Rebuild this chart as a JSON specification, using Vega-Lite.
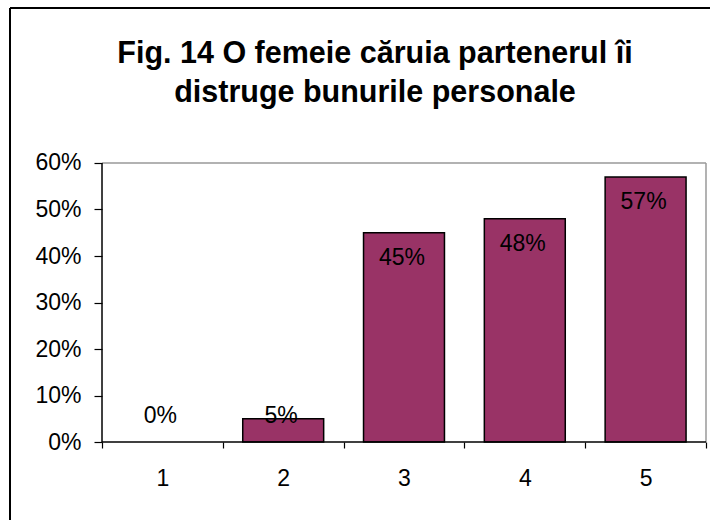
{
  "$schema": "https://vega.github.io/schema/vega-lite/v6.json",
  "width": 700,
  "height": 512,
  "autosize": {"type": "none"},
  "padding": {"left": 10, "top": 8, "right": 0, "bottom": 0},
  "background": "white",
  "title": {
    "text": ["Fig. 14 O femeie căruia partenerul îi", "distruge bunurile personale"],
    "anchor": "middle",
    "orient": "top",
    "frame": "group",
    "baseline": "alphabetic",
    "offset": 0,
    "dy": 124,
    "dx": 15,
    "font": "Liberation Sans",
    "fontSize": 30.5,
    "fontWeight": "bold",
    "lineHeight": 39,
    "color": "#000000"
  },
  "layer": [
    {
      "data": {"values": [
        {"cat": "1", "value": 0},
        {"cat": "2", "value": 0.05},
        {"cat": "3", "value": 0.45},
        {"cat": "4", "value": 0.48},
        {"cat": "5", "value": 0.57}
      ]},
      "transform": [{"filter": "datum.value > 0"}],
      "mark": {"type": "bar", "width": {"band": 0.67}, "fill": "#993366", "stroke": "#000000", "strokeWidth": 1.5},
      "encoding": {
        "x": {
          "field": "cat", "type": "nominal",
          "scale": {"type": "band", "domain": ["1", "2", "3", "4", "5"], "paddingInner": 0, "paddingOuter": 0.3974, "align": 0.9583},
          "axis": {
            "orient": "bottom", "offset": -78, "title": null, "domain": false, "grid": false,
            "tickBand": "extent", "tickSize": 6, "tickColor": "#000000", "tickWidth": 1.2,
            "labelAngle": 0, "labelFont": "Liberation Sans", "labelFontSize": 23, "labelColor": "#000000", "labelPadding": 19
          }
        },
        "y": {
          "field": "value", "type": "quantitative",
          "scale": {"domain": [-0.1677, 0.9333], "nice": false, "zero": false},
          "axis": {
            "orient": "left", "offset": -92, "title": null, "domain": false, "grid": false,
            "values": [0, 0.1, 0.2, 0.3, 0.4, 0.5, 0.6], "format": ".0%",
            "tickSize": 8, "tickColor": "#000000", "tickWidth": 1.2,
            "labelFont": "Liberation Sans", "labelFontSize": 23, "labelColor": "#000000", "labelPadding": 13
          }
        }
      }
    },
    {
      "data": {"values": [
        {"cat": "3", "value": 0.45},
        {"cat": "4", "value": 0.48},
        {"cat": "5", "value": 0.57}
      ]},
      "mark": {"type": "text", "baseline": "middle", "align": "center", "dy": 25.5, "dx": -2, "font": "Liberation Sans", "fontSize": 23, "color": "#000000"},
      "encoding": {
        "x": {"field": "cat", "type": "nominal"},
        "y": {"field": "value", "type": "quantitative"},
        "text": {"field": "value", "type": "quantitative", "format": ".0%"}
      }
    },
    {
      "data": {"values": [
        {"cat": "1", "value": 0},
        {"cat": "2", "value": 0.05}
      ]},
      "mark": {"type": "text", "baseline": "middle", "align": "center", "dy": -26, "dx": -2, "font": "Liberation Sans", "fontSize": 23, "color": "#000000"},
      "encoding": {
        "x": {"field": "cat", "type": "nominal"},
        "y": {"datum": 0, "type": "quantitative"},
        "text": {"field": "value", "type": "quantitative", "format": ".0%"}
      }
    },
    {
      "data": {"values": [{}]},
      "mark": {"type": "rule", "color": "#999999", "strokeWidth": 1.5},
      "encoding": {
        "x": {"datum": "1", "type": "nominal", "bandPosition": 0},
        "x2": {"datum": "5", "bandPosition": 1},
        "y": {"datum": 0.6, "type": "quantitative"}
      }
    },
    {
      "data": {"values": [{}]},
      "mark": {"type": "rule", "color": "#999999", "strokeWidth": 1.5},
      "encoding": {
        "x": {"datum": "5", "type": "nominal", "bandPosition": 1},
        "y": {"datum": 0, "type": "quantitative"},
        "y2": {"datum": 0.6}
      }
    },
    {
      "data": {"values": [{}]},
      "mark": {"type": "rule", "color": "#000000", "strokeWidth": 1.5},
      "encoding": {
        "x": {"datum": "1", "type": "nominal", "bandPosition": 0},
        "y": {"datum": 0, "type": "quantitative"},
        "y2": {"datum": 0.6}
      }
    },
    {
      "data": {"values": [{}]},
      "mark": {"type": "rule", "color": "#000000", "strokeWidth": 1.5},
      "encoding": {
        "x": {"datum": "1", "type": "nominal", "bandPosition": 0},
        "x2": {"datum": "5", "bandPosition": 1},
        "y": {"datum": 0, "type": "quantitative"}
      }
    }
  ],
  "config": {
    "view": {"stroke": "#000000", "strokeWidth": 2, "strokeDash": [700, 1212, 512, 0]}
  }
}
